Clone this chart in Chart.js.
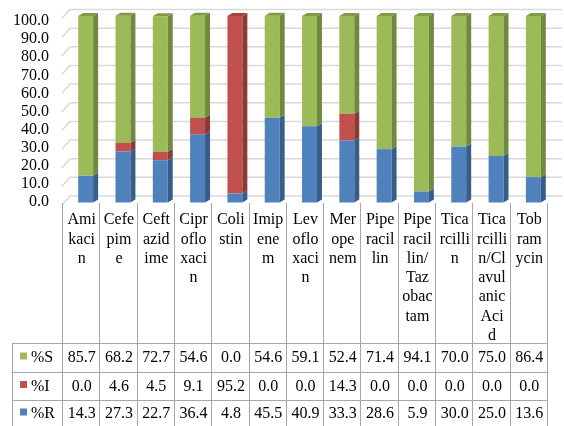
<!DOCTYPE html>
<html>
<head>
<meta charset="utf-8">
<script src="https://cdn.jsdelivr.net/npm/chart.js@4/dist/chart.umd.min.js"></script>
<style>
  html, body { margin: 0; padding: 0; background: #ffffff; }
  #wrap { width: 564px; height: 426px; position: relative; }
</style>
</head>
<body>
<div id="wrap"><canvas id="c" width="564" height="426"></canvas></div>
<script>
// Antibiotic susceptibility (%), one column per drug
const categories = [
  'Amikacin', 'Cefepime', 'Ceftazidime', 'Ciprofloxacin', 'Colistin', 'Imipenem',
  'Levofloxacin', 'Meropenem', 'Piperacillin', 'Piperacillin/Tazobactam',
  'Ticarcillin', 'Ticarcillin/Clavulanic Acid', 'Tobramycin'
];
const pctS = [85.7, 68.2, 72.7, 54.6, 0.0, 54.6, 59.1, 52.4, 71.4, 94.1, 70.0, 75.0, 86.4];
const pctI = [0.0, 4.6, 4.5, 9.1, 95.2, 0.0, 0.0, 14.3, 0.0, 0.0, 0.0, 0.0, 0.0];
const pctR = [14.3, 27.3, 22.7, 36.4, 4.8, 45.5, 40.9, 33.3, 28.6, 5.9, 30.0, 25.0, 13.6];
const seriesNames = ['%S', '%I', '%R'];
const yTicks = [0, 10, 20, 30, 40, 50, 60, 70, 80, 90, 100];

const FONT = '"Liberation Serif", "Times New Roman", serif';
const FS = 16;

const colors = {
  '%S': { front: '#9bbb59', side: '#6f8a3c', top: '#7d9c45' },
  '%I': { front: '#c0504d', side: '#8c3836', top: '#a3433f' },
  '%R': { front: '#4f81bd', side: '#375d8b', top: '#416ea3' }
};

// oblique projection offsets
const barDepth = { dx: 5, dy: -3 };
const barShift = 4;
const wallDepth = { dx: 8, dy: -9 };
const labelPerspective = 0.97;

// table geometry
const tableLeft = 12;
const headerTop = 203;
const rowLines = [343, 372, 400];
const rowCenters = [358, 386.5, 414];
const lineGap = 19.3;
const firstLineY = 220;

// wrap a header into lines no wider than maxW (unkerned advance widths)
function wrapLabel(ctx, text, maxW) {
  const lines = [];
  let line = '';
  for (const word of text.split(' ')) {
    if (line && ctx.measureText(line + ' ' + word).width <= maxW) {
      line += ' ' + word;
      continue;
    }
    if (line) { lines.push(line); line = ''; }
    for (const ch of word) {
      if (!line || ctx.measureText(line + ch).width <= maxW) line += ch;
      else { lines.push(line); line = ch; }
    }
  }
  if (line) lines.push(line);
  return lines;
}

const excel3d = {
  id: 'excel3d',
  beforeDatasetsDraw(chart) {
    const ctx = chart.ctx;
    const y = chart.scales.y;
    const area = chart.chartArea;
    ctx.save();
    ctx.strokeStyle = '#d9d9d9';
    ctx.lineWidth = 1.5;
    for (const v of yTicks) {
      const yp = y.getPixelForValue(v);
      const xl = area.left - 1;
      ctx.beginPath();
      ctx.moveTo(xl, yp + 2.5);
      ctx.lineTo(xl + wallDepth.dx, yp + 2.5 + wallDepth.dy);
      ctx.lineTo(chart.width - 2, yp + 2.5 + wallDepth.dy);
      ctx.stroke();
    }
    ctx.restore();
    ctx.save();
    ctx.translate(barShift, 0);
  },
  afterDatasetsDraw(chart) {
    const ctx = chart.ctx;
    const nds = chart.data.datasets.length;
    for (let d = 0; d < nds; d++) {
      const ds = chart.data.datasets[d];
      const meta = chart.getDatasetMeta(d);
      const c = colors[ds.label];
      meta.data.forEach((el, i) => {
        if (!ds.data[i]) return;
        const p = el.getProps(['x', 'y', 'base', 'width'], true);
        const l = p.x - p.width / 2, r = p.x + p.width / 2;
        const top = Math.min(p.y, p.base), bot = Math.max(p.y, p.base);
        ctx.fillStyle = c.side;
        ctx.beginPath();
        ctx.moveTo(r, top);
        ctx.lineTo(r + barDepth.dx, top + barDepth.dy);
        ctx.lineTo(r + barDepth.dx, bot + barDepth.dy);
        ctx.lineTo(r, bot);
        ctx.closePath();
        ctx.fill();
        let topmost = true;
        for (let k = d + 1; k < nds; k++) if (chart.data.datasets[k].data[i]) topmost = false;
        if (topmost) {
          ctx.fillStyle = c.top;
          ctx.beginPath();
          ctx.moveTo(l, top);
          ctx.lineTo(r, top);
          ctx.lineTo(r + barDepth.dx, top + barDepth.dy);
          ctx.lineTo(l + barDepth.dx, top + barDepth.dy);
          ctx.closePath();
          ctx.fill();
        }
      });
    }
    ctx.restore();
  },
  afterDraw(chart) {
    const ctx = chart.ctx;
    const x = chart.scales.x;
    const y = chart.scales.y;
    const area = chart.chartArea;
    const n = categories.length;
    const w = x.getPixelForValue(1) - x.getPixelForValue(0);
    const right = area.left + n * w;

    // value axis labels
    ctx.save();
    ctx.font = FS + 'px ' + FONT;
    ctx.fillStyle = '#000';
    ctx.textAlign = 'right';
    ctx.textBaseline = 'middle';
    for (const v of yTicks) {
      ctx.fillText(v.toFixed(1), 49, y.getPixelForValue(v * labelPerspective) - 0.5);
    }

    // data table grid
    ctx.strokeStyle = '#a6a6a6';
    ctx.lineWidth = 1;
    ctx.beginPath();
    for (let k = 0; k <= n; k++) {
      const xx = Math.round(area.left + k * w) - 0.5;
      ctx.moveTo(xx, headerTop);
      ctx.lineTo(xx, chart.height);
    }
    for (const ry of rowLines) {
      ctx.moveTo(tableLeft, ry + 0.5);
      ctx.lineTo(Math.round(right), ry + 0.5);
    }
    ctx.moveTo(tableLeft + 0.5, rowLines[0]);
    ctx.lineTo(tableLeft + 0.5, chart.height);
    ctx.stroke();

    // category headers
    ctx.textAlign = 'center';
    const maxW = FS * 1.915;
    const wrapped = (() => {
      ctx.save();
      if ('fontKerning' in ctx) ctx.fontKerning = 'none';
      const out = categories.map(cat => wrapLabel(ctx, cat, maxW));
      ctx.restore();
      return out;
    })();
    wrapped.forEach((lines, i) => {
      const cx = x.getPixelForValue(i);
      lines.forEach((ln, j) => {
        ctx.fillText(ln, cx, firstLineY + j * lineGap);
      });
    });

    // series rows
    const rows = { '%S': pctS, '%I': pctI, '%R': pctR };
    seriesNames.forEach((name, r) => {
      const cy = rowCenters[r];
      ctx.fillStyle = colors[name].front;
      ctx.fillRect(20, cy - 5.5, 7, 7);
      ctx.fillStyle = '#000';
      ctx.textAlign = 'left';
      ctx.fillText(name, 31, cy);
      ctx.textAlign = 'center';
      rows[name].forEach((v, i) => {
        ctx.fillText(v.toFixed(1), x.getPixelForValue(i), cy);
      });
    });
    ctx.restore();
  }
};

new Chart(document.getElementById('c'), {
  type: 'bar',
  data: {
    labels: categories,
    datasets: [
      { label: '%R', data: pctR, backgroundColor: colors['%R'].front, stack: 'pct', clip: false },
      { label: '%I', data: pctI, backgroundColor: colors['%I'].front, stack: 'pct', clip: false },
      { label: '%S', data: pctS, backgroundColor: colors['%S'].front, stack: 'pct', clip: false }
    ]
  },
  options: {
    responsive: false,
    animation: false,
    devicePixelRatio: 1,
    layout: { padding: { left: 63, right: 16, top: 16, bottom: 223.5 } },
    datasets: { bar: { barPercentage: 0.4, categoryPercentage: 1.0, borderWidth: 0 } },
    plugins: { legend: { display: false }, tooltip: { enabled: false } },
    scales: {
      x: { display: false, stacked: true, offset: true },
      y: { display: false, stacked: true, min: 0, max: 100 }
    }
  },
  plugins: [excel3d]
});
</script>
</body>
</html>
